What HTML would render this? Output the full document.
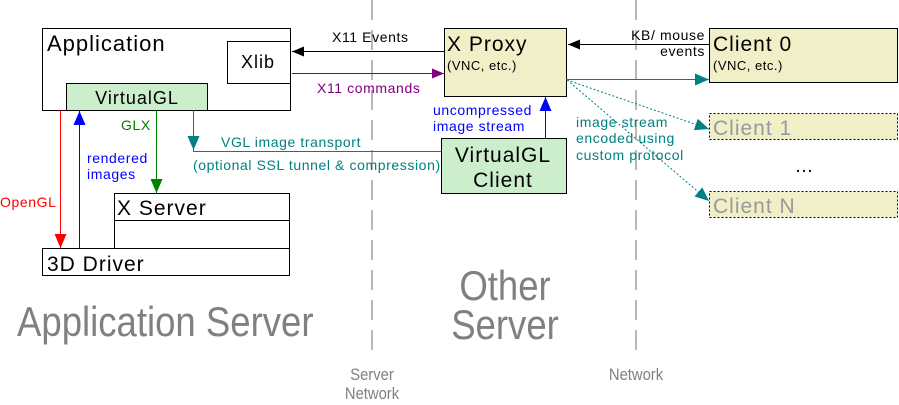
<!DOCTYPE html>
<html><head><meta charset="utf-8"><style>
html,body{margin:0;padding:0;background:#fff;}
svg{display:block;font-family:"Liberation Sans",Arial,sans-serif;}
.s{font-size:14px;letter-spacing:0.6px;}
.t{letter-spacing:1px;}
</style></head><body>
<svg width="899" height="405" viewBox="0 0 899 405" xmlns="http://www.w3.org/2000/svg">
<defs>
<marker id="ak" markerWidth="12" markerHeight="10" refX="12" refY="5" orient="auto" markerUnits="userSpaceOnUse"><path d="M0,0L12,5L0,10z" fill="#000"/></marker>
<marker id="ap" markerWidth="12" markerHeight="10" refX="12" refY="5" orient="auto" markerUnits="userSpaceOnUse"><path d="M0,0L12,5L0,10z" fill="#800080"/></marker>
<marker id="at" markerWidth="14" markerHeight="12" refX="14" refY="6" orient="auto" markerUnits="userSpaceOnUse"><path d="M0,0L14,6L0,12z" fill="#008080"/></marker>
<marker id="ar" markerWidth="14" markerHeight="12" refX="14" refY="6" orient="auto" markerUnits="userSpaceOnUse"><path d="M0,0L14,6L0,12z" fill="#f00"/></marker>
<marker id="ab" markerWidth="14" markerHeight="12" refX="14" refY="6" orient="auto" markerUnits="userSpaceOnUse"><path d="M0,0L14,6L0,12z" fill="#00f"/></marker>
<marker id="ag" markerWidth="14" markerHeight="12" refX="14" refY="6" orient="auto" markerUnits="userSpaceOnUse"><path d="M0,0L14,6L0,12z" fill="#008000"/></marker>
</defs>
<line x1="372" y1="0" x2="372" y2="358" stroke="#888" stroke-width="1.2" stroke-dasharray="20,10"/>
<line x1="636" y1="0" x2="636" y2="358" stroke="#888" stroke-width="1.2" stroke-dasharray="20,10"/>

<rect x="42.5" y="28.5" width="248" height="82" fill="#fff" stroke="#000"/>
<text x="47" y="51" font-size="22" class="t">Application</text>
<rect x="227.5" y="41.5" width="63" height="42" fill="#fff" stroke="#000"/>
<text x="241" y="68" font-size="18" class="t">Xlib</text>
<rect x="66.5" y="83.5" width="141" height="27" fill="#cdeecd" stroke="#000"/>
<text x="137" y="104" font-size="18" text-anchor="middle" class="t">VirtualGL</text>

<rect x="114.5" y="193.5" width="175" height="55" fill="#fff" stroke="#000"/>
<line x1="114.5" y1="220.5" x2="289.5" y2="220.5" stroke="#000"/>
<text x="117" y="215" font-size="21" class="t">X Server</text>
<rect x="42.5" y="248.5" width="247" height="27" fill="#fff" stroke="#000"/>
<text x="47" y="271" font-size="21" class="t">3D Driver</text>

<line x1="60.5" y1="110" x2="60.5" y2="248" stroke="#f00" marker-end="url(#ar)"/>
<text x="0" y="207" fill="#f00" class="s">OpenGL</text>
<line x1="79.5" y1="248" x2="79.5" y2="111" stroke="#00f" marker-end="url(#ab)"/>
<text x="87" y="163" fill="#00f" class="s">rendered</text>
<text x="87" y="179" fill="#00f" class="s">images</text>
<line x1="156.5" y1="110" x2="156.5" y2="193" stroke="#008000" marker-end="url(#ag)"/>
<text x="121" y="130" fill="#008000" class="s">GLX</text>
<polyline points="193.5,110 193.5,151.5 441,151.5" fill="none" stroke="#008080"/>
<line x1="193.5" y1="130" x2="193.5" y2="150" stroke="#008080" marker-end="url(#at)"/>
<text x="221" y="147" fill="#008080" class="s">VGL image transport</text>
<text x="193" y="170" fill="#008080" class="s">(optional SSL tunnel &amp; compression)</text>

<line x1="444" y1="51.5" x2="292" y2="51.5" stroke="#000" marker-end="url(#ak)"/>
<text x="332" y="42" class="s">X11 Events</text>
<line x1="292" y1="73.5" x2="444" y2="73.5" stroke="#800080" marker-end="url(#ap)"/>
<text x="317" y="93" fill="#800080" class="s">X11 commands</text>

<rect x="444.5" y="28.5" width="122" height="68" fill="#f0efc8" stroke="#000"/>
<text x="447" y="51" font-size="21" class="t">X Proxy</text>
<text x="447" y="70" font-size="13" letter-spacing="0.5">(VNC, etc.)</text>
<rect x="441.5" y="138.5" width="125" height="55" fill="#cdeecd" stroke="#000"/>
<text x="503" y="162" font-size="21" text-anchor="middle" class="t">VirtualGL</text>
<text x="503" y="187" font-size="21" text-anchor="middle" class="t">Client</text>
<line x1="545.5" y1="138" x2="545.5" y2="97" stroke="#00f" marker-end="url(#ab)"/>
<text x="433" y="115" fill="#00f" class="s">uncompressed</text>
<text x="433" y="131" fill="#00f" class="s">image stream</text>

<rect x="709.5" y="28.5" width="188" height="54" fill="#f0efc8" stroke="#000"/>
<text x="713" y="51" font-size="21" class="t">Client 0</text>
<text x="713" y="70" font-size="13" letter-spacing="0.5">(VNC, etc.)</text>
<line x1="709" y1="44.5" x2="568" y2="44.5" stroke="#000" marker-end="url(#ak)"/>
<text x="705" y="40" text-anchor="end" class="s">KB/ mouse</text>
<text x="705" y="56" text-anchor="end" class="s">events</text>
<line x1="566" y1="79.5" x2="709" y2="79.5" stroke="#008080" marker-end="url(#at)"/>
<line x1="567" y1="80" x2="709" y2="129" stroke="#008080" stroke-dasharray="2,2" marker-end="url(#at)"/>
<line x1="567" y1="80" x2="709" y2="201" stroke="#008080" stroke-dasharray="2,2" marker-end="url(#at)"/>
<text x="576" y="127" fill="#008080" class="s">image stream</text>
<text x="576" y="143" fill="#008080" class="s">encoded using</text>
<text x="576" y="160" fill="#008080" class="s">custom protocol</text>

<rect x="709.5" y="113.5" width="188" height="26" fill="#f0efc8" stroke="#000" stroke-dasharray="2,2"/>
<text x="713" y="135" font-size="21" fill="#999" class="t">Client 1</text>
<text x="804" y="172" font-size="19" text-anchor="middle">…</text>
<rect x="709.5" y="191.5" width="188" height="26" fill="#f0efc8" stroke="#000" stroke-dasharray="2,2"/>
<text x="713" y="213" font-size="21" fill="#999" class="t">Client N</text>

<text font-size="42" fill="#808080" transform="translate(17,336) scale(0.87,1)">Application Server</text>
<text font-size="42" fill="#808080" text-anchor="middle" transform="translate(505,300) scale(0.87,1)">Other</text>
<text font-size="42" fill="#808080" text-anchor="middle" transform="translate(505,339) scale(0.87,1)">Server</text>
<text font-size="17" fill="#808080" text-anchor="middle" transform="translate(372,380) scale(0.87,1)">Server</text>
<text font-size="17" fill="#808080" text-anchor="middle" transform="translate(372,399) scale(0.87,1)">Network</text>
<text font-size="17" fill="#808080" text-anchor="middle" transform="translate(636,380) scale(0.87,1)">Network</text>
</svg>
</body></html>
